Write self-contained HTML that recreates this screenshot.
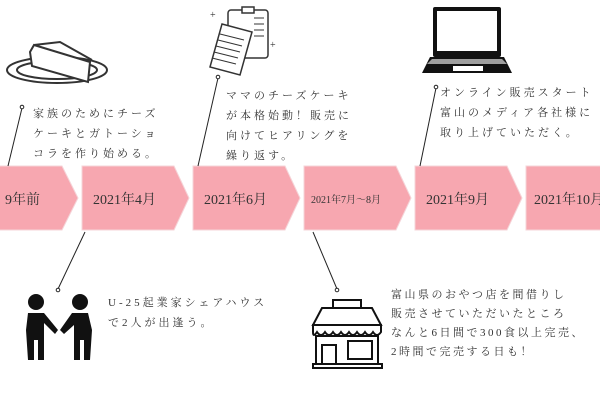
<!DOCTYPE html>
<html><head><meta charset="utf-8"><style>
body{margin:0;width:600px;height:400px;background:#fff;position:relative;overflow:hidden;font-family:"Liberation Serif","Noto Serif CJK SC",serif;color:#333}
.t{position:absolute;font-size:11px;line-height:20px;letter-spacing:3px;white-space:nowrap}
.c{position:absolute;font-size:14px;color:#333;white-space:nowrap}
</style></head><body>
<svg width="600" height="400" style="position:absolute;left:0;top:0">
<g fill="#f7a7b0" stroke="#f5d4d8" stroke-width="1">
<path d="M-30,166 H62 L78,198 L62,230 H-30 Z"/>
<path d="M82,166 H174 L189,198 L174,230 H82 Z"/>
<path d="M193,166 H285 L300,198 L285,230 H193 Z"/>
<path d="M304,166 H396 L411,198 L396,230 H304 Z"/>
<path d="M415,166 H507 L522,198 L507,230 H415 Z"/>
<path d="M526,166 H618 L633,198 L618,230 H526 Z"/>
</g>
<g stroke="#222" stroke-width="1" fill="#fff">
<line x1="8" y1="166" x2="22" y2="108"/><circle cx="22" cy="107" r="1.8"/>
<line x1="85" y1="232" x2="58" y2="289"/><circle cx="58" cy="290" r="1.8"/>
<line x1="198" y1="166" x2="218" y2="78"/><circle cx="218" cy="77" r="1.8"/>
<line x1="313" y1="232" x2="337" y2="289"/><circle cx="337" cy="290" r="1.8"/>
<line x1="420" y1="166" x2="436" y2="88"/><circle cx="436" cy="87" r="1.8"/>
</g>
<g stroke="#333" fill="none" stroke-width="2">
<ellipse cx="57" cy="70" rx="50" ry="13"/><ellipse cx="57" cy="70" rx="40" ry="9"/>
<path d="M30,52 L34,45 L90,62 L88,82 L32,66 Z" fill="#fff"/>
<path d="M34,45 L60,42 L92,60" />
</g>
<g stroke="#333" fill="#fff" stroke-width="1.5">
<rect x="228" y="10" width="40" height="48" rx="3"/>
<rect x="242" y="7" width="12" height="6"/>
<path d="M222,24 L252,32 L240,75 L210,67 Z"/>
<path d="M220,34 L244,40 M218,40 L242,46 M216,46 L240,52 M214,52 L238,58 M212,58 L236,64" stroke-width="1"/>
<path d="M254,18 H264 M254,24 H264 M254,30 H264 M254,36 H264" stroke-width="1"/>
</g>
<text x="210" y="18" font-size="10" fill="#333">+</text><text x="270" y="48" font-size="10" fill="#333">+</text>
<g fill="#111">
<rect x="433" y="7" width="68" height="50" rx="2"/>
<rect x="437" y="11" width="60" height="40" fill="#fff"/>
<path d="M430,57 H504 L512,73 H422 Z"/>
<rect x="453" y="66" width="30" height="5" fill="#fff"/>
<path d="M432,59 H502 L507,64 H427 Z" fill="#fff" opacity=".6"/>
</g>
<g fill="#111">
<circle cx="36" cy="302" r="8"/><circle cx="80" cy="302" r="8"/>
<path d="M28,313 H44 L58,330 L55,334 L44,323 V360 H38 V340 H34 V360 H28 L26,330 Z"/>
<path d="M72,313 H88 L92,330 L90,360 H84 V340 H80 V360 H74 V325 L64,334 L60,330 Z"/>
</g>
<g stroke="#111" stroke-width="2" fill="#fff">
<rect x="333" y="300" width="28" height="8"/>
<path d="M322,308 H372 L381,325 H313 Z"/>
<path d="M313,325 H381 V332 Q377,338 373,332 Q369,338 365,332 Q361,338 357,332 Q353,338 349,332 Q345,338 341,332 Q337,338 333,332 Q329,338 325,332 Q321,338 317,332 Q313,338 313,332 Z"/>
<rect x="316" y="336" width="62" height="28"/>
<rect x="322" y="345" width="14" height="19"/><rect x="348" y="341" width="24" height="18"/>
<rect x="313" y="364" width="69" height="4"/>
</g>
</svg>
<div class="c" style="left:5px;top:189px">9年前</div>
<div class="c" style="left:93px;top:189px">2021年4月</div>
<div class="c" style="left:204px;top:189px">2021年6月</div>
<div class="c" style="left:311px;top:191px;font-size:10px">2021年7月～8月</div>
<div class="c" style="left:426px;top:189px">2021年9月</div>
<div class="c" style="left:534px;top:189px">2021年10月</div>
<div class="t" style="left:33px;top:104px">家族のためにチーズ<br>ケーキとガトーショ<br>コラを作り始める。</div>
<div class="t" style="left:226px;top:86px">ママのチーズケーキ<br>が本格始動！販売に<br>向けてヒアリングを<br>繰り返す。</div>
<div class="t" style="left:440px;top:83px">オンライン販売スタート<br>富山のメディア各社様に<br>取り上げていただく。</div>
<div class="t" style="left:108px;top:293px">U-25起業家シェアハウス<br>で2人が出逢う。</div>
<div class="t" style="left:391px;top:286px;line-height:19px;letter-spacing:2.5px">富山県のおやつ店を間借りし<br>販売させていただいたところ<br>なんと6日間で300食以上完売、<br>2時間で完売する日も！</div>
</body></html>
